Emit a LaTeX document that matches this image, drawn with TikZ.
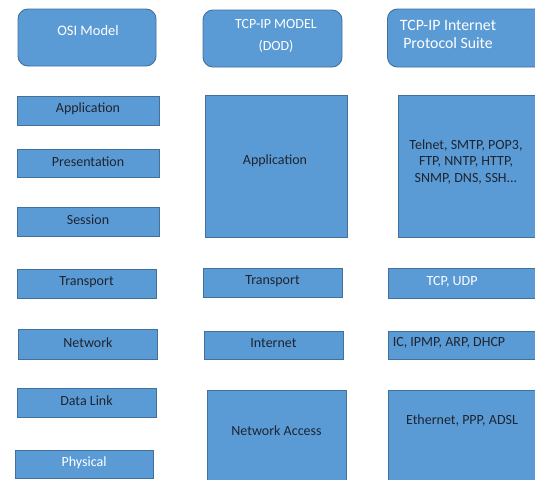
\documentclass[tikz,border=0pt]{standalone}
\usepackage{fontspec}
\setmainfont{Carlito}
\definecolor{boxfill}{HTML}{5B9BD5}
\definecolor{boxline}{HTML}{41719C}
\definecolor{darktext}{HTML}{1E2430}
\begin{document}
\begin{tikzpicture}[x=1pt,y=-1pt,
  box/.style={draw=boxline, fill=boxfill, line width=0.9pt, rectangle, inner sep=0pt},
  hdr/.style={box, rounded corners=10pt},
  lbl/.style={inner sep=0pt, align=center, font=\fontsize{14}{16.5}\selectfont},
  dk/.style={lbl, text=darktext},
  wt/.style={lbl, text=white}]
\fill[white] (0,0) rectangle (535,479);
\clip (0,0) rectangle (535,479);
% headers
\node[hdr, minimum width=138pt, minimum height=57pt] (osi) at (87,37.5) {};
\node[wt, font=\fontsize{14.5}{17}\selectfont] (osit) at (88,31) {OSI Model};
\node[hdr, minimum width=139pt, minimum height=57pt] (tcp) at (272.5,38.5) {};
\node[wt, font=\fontsize{14}{22}\selectfont] (tcpt) at (276,35.5) {TCP-IP MODEL\\(DOD)};
\node[hdr, minimum width=160pt, minimum height=58pt, anchor=west] (suite) at (387,38) {};
\node[wt, font=\fontsize{15.8}{18}\selectfont] (suitet) at (448,34) {TCP-IP Internet\\Protocol Suite};
% OSI column
\node[box, minimum width=142pt, minimum height=29pt] (app) at (88,110.5) {};
\node[dk] (appt) at (88,109) {Application};
\node[box, minimum width=142pt, minimum height=28pt] (pres) at (88,163) {};
\node[dk] (prest) at (88,162) {Presentation};
\node[box, minimum width=142pt, minimum height=29pt] (ses) at (88,221.5) {};
\node[dk] (sest) at (88,220) {Session};
\node[box, minimum width=139pt, minimum height=29pt] (trans) at (86.5,283.5) {};
\node[dk] (transt) at (86.5,282) {Transport};
\node[box, minimum width=139pt, minimum height=30pt] (net) at (87.5,344) {};
\node[dk] (nett) at (88,343) {Network};
\node[box, minimum width=139pt, minimum height=29pt] (dl) at (86.5,402.5) {};
\node[dk] (dlt) at (86.5,401) {Data Link};
\node[box, minimum width=138pt, minimum height=28pt] (phy) at (84,464) {};
\node[wt] (phyt) at (84,462.5) {Physical};
% TCP-IP model column
\node[box, minimum width=142pt, minimum height=142pt] (tapp) at (276,166) {};
\node[dk] (tappt) at (275,161) {Application};
\node[box, minimum width=139pt, minimum height=29pt] (ttrans) at (272.5,282.5) {};
\node[dk] (ttranst) at (272.5,281.5) {Transport};
\node[box, minimum width=139pt, minimum height=28pt] (tint) at (273.5,345) {};
\node[dk] (tintt) at (273.5,343.5) {Internet};
\node[box, minimum width=139pt, minimum height=110pt, anchor=north] (tna) at (276.5,390) {};
\node[dk] (tnat) at (276.5,431) {Network Access};
% Suite column
\node[box, minimum width=150pt, minimum height=142pt, anchor=west] (sapp) at (398,166) {};
\node[dk, font=\fontsize{14}{16.5}\selectfont] (sappt) at (466,162) {Telnet, SMTP, POP3,\\FTP, NNTP, HTTP,\\SNMP, DNS, SSH...};
\node[box, minimum width=160pt, minimum height=30pt, anchor=west] (strans) at (388,283) {};
\node[wt] (stranst) at (452,281.5) {TCP, UDP};
\node[box, minimum width=160pt, minimum height=28pt, anchor=west] (sint) at (388,345) {};
\node[dk, font=\fontsize{14}{16.5}\selectfont] (sintt) at (449,343) {IC, IPMP, ARP, DHCP};
\node[box, minimum width=160pt, minimum height=110pt, anchor=north west] (sna) at (388,390) {};
\node[dk] (snat) at (462,421) {Ethernet, PPP, ADSL};
\end{tikzpicture}
\end{document}
